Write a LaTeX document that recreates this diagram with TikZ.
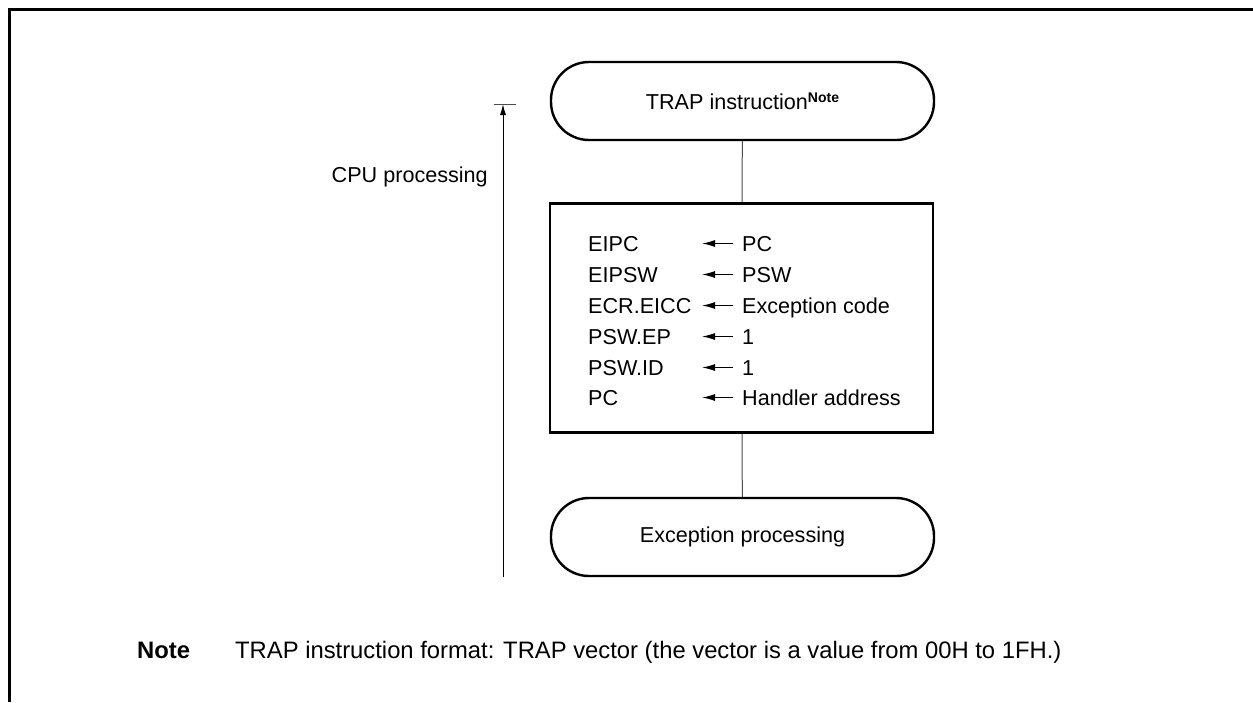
\documentclass[tikz,border=0pt]{standalone}
\usepackage{fontspec}
\setmainfont{Liberation Sans}
\usetikzlibrary{arrows.meta}
\begin{document}
\begin{tikzpicture}[x=1pt,y=-1pt,
  every node/.style={font=\fontsize{21.6}{26}\selectfont, inner sep=0pt},
  term/.style={draw, line width=2.4pt, rounded corners=38pt, minimum width=383pt, minimum height=78pt},
  procbox/.style={draw, line width=2.6pt, minimum width=383pt, minimum height=229pt},
  conn/.style={line width=1pt, draw=black!70},
  lbl/.style={anchor=base west},
  notefont/.style={font=\fontsize{23.8}{28}\selectfont},
  notehead/.style={font=\fontsize{23.8}{28}\selectfont\bfseries},
  asg/.style={line width=1.1pt, -{Latex[length=13pt,width=7pt]}}]
\useasboundingbox (0,0) rectangle (1253,702);
% frame
\draw[line width=3pt] (9,702) -- (9,9) -- (1253,9);
% nodes
\node[term] (top) at (742.5,101) {TRAP instruction\raisebox{7pt}{\fontsize{14}{16}\selectfont\bfseries Note}};
\node[procbox] (box) at (741.5,318) {};
\node[term] (bot) at (742.5,537) {Exception processing};
\draw[conn] (top) -- (box);
\draw[conn] (box) -- (bot);
% box contents
\foreach \y/\l/\r [count=\i] in {251/EIPC/PC, 282/EIPSW/PSW, 313/ECR.EICC/Exception code, 344/PSW.EP/1, 375/PSW.ID/1, 405/PC/Handler address}{
  \node[lbl] (l\i) at (588,\y) {\l};
  \node[lbl] (r\i) at (742,\y) {\r};
  \coordinate (as\i) at (733,\y-7.5);
  \coordinate (ae\i) at (702,\y-7.5);
  \draw[asg] (as\i) -- (ae\i);
}
% CPU processing
\coordinate (cpuB) at (503,577);
\coordinate (cpuT) at (503,104);
\coordinate (tickL) at (494,104);
\coordinate (tickR) at (516,104);
\draw[line width=1pt, -{Latex[length=11pt,width=6pt]}] (cpuB) -- (cpuT);
\draw[line width=1pt, draw=black!70] (tickL) -- (tickR);
\node[anchor=base east] (cpu) at (488,182) {CPU processing};
% note
\node[anchor=base west, notehead] (note) at (137,658) {Note};
\node[anchor=base west, notefont] (notetext) at (235,658) {TRAP instruction format: TRAP vector (the vector is a value from 00H to 1FH.)};
\end{tikzpicture}
\end{document}
